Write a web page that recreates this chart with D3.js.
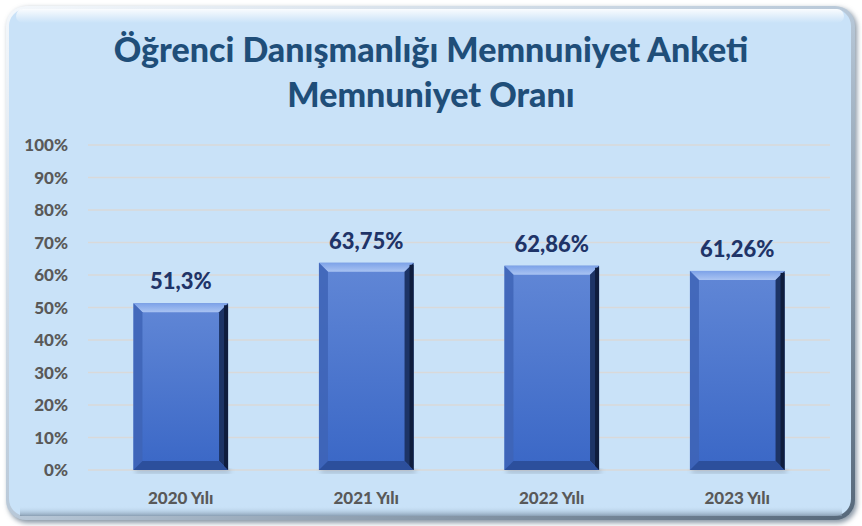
<!DOCTYPE html>
<html><head><meta charset="utf-8">
<script src="https://cdn.jsdelivr.net/npm/d3@7"></script>
<style>html,body{margin:0;padding:0;background:#fff;}svg{display:block;}</style>
</head><body>
<script>
const categories = ["2020 Yılı","2021 Yılı","2022 Yılı","2023 Yılı"];
const values = [51.3, 63.75, 62.86, 61.26];
const valueLabels = ["51,3%","63,75%","62,86%","61,26%"];
const yTicks = [0,10,20,30,40,50,60,70,80,90,100];
const titleLines = ["Öğrenci Danışmanlığı Memnuniyet Anketi","Memnuniyet Oranı"];

const W = 862, H = 526;
const svg = d3.select("body").append("svg").attr("width", W).attr("height", H);
const defs = svg.append("defs");

const edge = defs.append("linearGradient").attr("id","edge").attr("x1",0).attr("y1",0).attr("x2",1).attr("y2",1);
edge.append("stop").attr("offset","0%").attr("stop-color","#f4f8fc");
edge.append("stop").attr("offset","50%").attr("stop-color","#b8c8d8");
edge.append("stop").attr("offset","100%").attr("stop-color","#56687a");

const fil = defs.append("filter").attr("id","blur").attr("x","-10%").attr("y","-10%").attr("width","120%").attr("height","120%");
fil.append("feGaussianBlur").attr("stdDeviation",2.5);

svg.append("rect").attr("x",8).attr("y",8).attr("width",849).attr("height",515).attr("rx",20)
  .attr("fill","#8a98a6").attr("filter","url(#blur)");
svg.append("rect").attr("x",6).attr("y",6).attr("width",849).attr("height",514).attr("rx",20)
  .attr("fill","url(#edge)");
svg.append("rect").attr("x",9).attr("y",9).attr("width",842).attr("height",507).attr("rx",17)
  .attr("fill","#c9e2f8");
const hl = defs.append("linearGradient").attr("id","hl").attr("x1",0).attr("y1",0).attr("x2",0).attr("y2",1);
hl.append("stop").attr("offset","0%").attr("stop-color","#ffffff").attr("stop-opacity",0.9);
hl.append("stop").attr("offset","100%").attr("stop-color","#ffffff").attr("stop-opacity",0);
svg.append("rect").attr("x",16).attr("y",9).attr("width",828).attr("height",14).attr("rx",7)
  .attr("fill","url(#hl)");
const bs = defs.append("linearGradient").attr("id","bs").attr("x1",0).attr("y1",0).attr("x2",0).attr("y2",1);
bs.append("stop").attr("offset","0%").attr("stop-color","#c9e2f8").attr("stop-opacity",0);
bs.append("stop").attr("offset","100%").attr("stop-color","#7a8ea2").attr("stop-opacity",0.8);
svg.append("rect").attr("x",20).attr("y",506).attr("width",822).attr("height",10)
  .attr("fill","url(#bs)");

// title
svg.append("g").selectAll("text").data(titleLines).join("text")
  .attr("x", 431).attr("y",(d,i)=> 62 + i*45)
  .attr("text-anchor","middle")
  .attr("font-family","Lato, 'Open Sans', sans-serif").attr("font-weight","900")
  .attr("font-size",34).attr("fill","#1f4e79")
  .text(d=>d);

const plot = {left:88, right:830, top:145, bottom:470};
const x = d3.scaleBand().domain(categories).range([plot.left, plot.right]).paddingInner(0.49).paddingOuter(0.245);
const y = d3.scaleLinear().domain([0,100]).range([plot.bottom, plot.top]);

svg.append("g").selectAll("line").data(yTicks).join("line")
  .attr("x1",plot.left).attr("x2",plot.right)
  .attr("y1",d=>y(d)).attr("y2",d=>y(d))
  .attr("stroke","#d9d9d9").attr("stroke-width",1.5);

const yAxis = d3.axisLeft(y).tickValues(yTicks).tickFormat(d=>d+"%").tickSize(0).tickPadding(0);
const yg = svg.append("g").attr("transform",`translate(68,0)`).call(yAxis);
yg.select(".domain").remove();
yg.selectAll("text").attr("font-family","Lato, 'Open Sans', sans-serif").attr("font-weight","900")
  .attr("font-size",17).attr("fill","#595959").attr("dy","0.35em");

const xAxis = d3.axisBottom(x).tickSize(0).tickPadding(0);
const xg = svg.append("g").attr("transform",`translate(0,${plot.bottom})`).call(xAxis);
xg.select(".domain").remove();
xg.selectAll("text").attr("y",34).attr("dy",0).attr("font-family","Lato, 'Open Sans', sans-serif").attr("font-weight","900")
  .attr("font-size",17).attr("fill","#595959");

const face = defs.append("linearGradient").attr("id","face").attr("x1",0).attr("y1",0).attr("x2",0).attr("y2",1);
face.append("stop").attr("offset","0%").attr("stop-color","#6187d6");
face.append("stop").attr("offset","100%").attr("stop-color","#3a67c6");
const topBev = defs.append("linearGradient").attr("id","topBev").attr("x1",0).attr("y1",0).attr("x2",0).attr("y2",1);
topBev.append("stop").attr("offset","0%").attr("stop-color","#7da2e8");
topBev.append("stop").attr("offset","100%").attr("stop-color","#a9c3f2");

const bars = svg.append("g").selectAll("g").data(categories).join("g");
const bev = 9;
bars.each(function(c,i){
  const g = d3.select(this);
  const x0 = x(c), w = x.bandwidth(), y0 = y(values[i]), y1 = y(0);
  g.append("rect").attr("x",x0+2).attr("y",y1-1).attr("width",w).attr("height",4).attr("fill","#8797a8").attr("opacity",0.6).attr("filter","url(#blur)");
  g.append("rect").attr("x",x0).attr("y",y0).attr("width",w).attr("height",y1-y0).attr("fill","url(#face)");
  g.append("path").attr("d",`M${x0},${y0}L${x0+w},${y0}L${x0+w-bev},${y0+bev}L${x0+bev},${y0+bev}Z`).attr("fill","url(#topBev)");
  g.append("path").attr("d",`M${x0},${y0}L${x0+bev},${y0+bev}L${x0+bev},${y1-bev}L${x0},${y1}Z`).attr("fill","#3e64b6").attr("opacity",0.85);
  g.append("path").attr("d",`M${x0+w},${y0}L${x0+w},${y1}L${x0+w-bev},${y1-bev}L${x0+w-bev},${y0+bev}Z`).attr("fill","#1d3466");
  g.append("rect").attr("x",x0+w-4).attr("y",y0+2).attr("width",4).attr("height",y1-y0-2).attr("fill","#0f1d3d");
  g.append("path").attr("d",`M${x0},${y1}L${x0+w},${y1}L${x0+w-bev},${y1-bev}L${x0+bev},${y1-bev}Z`).attr("fill","#2c4f9c");
});

svg.append("g").selectAll("text").data(categories).join("text")
  .attr("x",c=>x(c)+x.bandwidth()/2).attr("y",(c,i)=>y(values[i])-14)
  .attr("text-anchor","middle")
  .attr("font-family","Lato, 'Open Sans', sans-serif").attr("font-weight","900")
  .attr("font-size",22).attr("fill","#1f3468")
  .text((c,i)=>valueLabels[i]);
</script>
</body></html>
